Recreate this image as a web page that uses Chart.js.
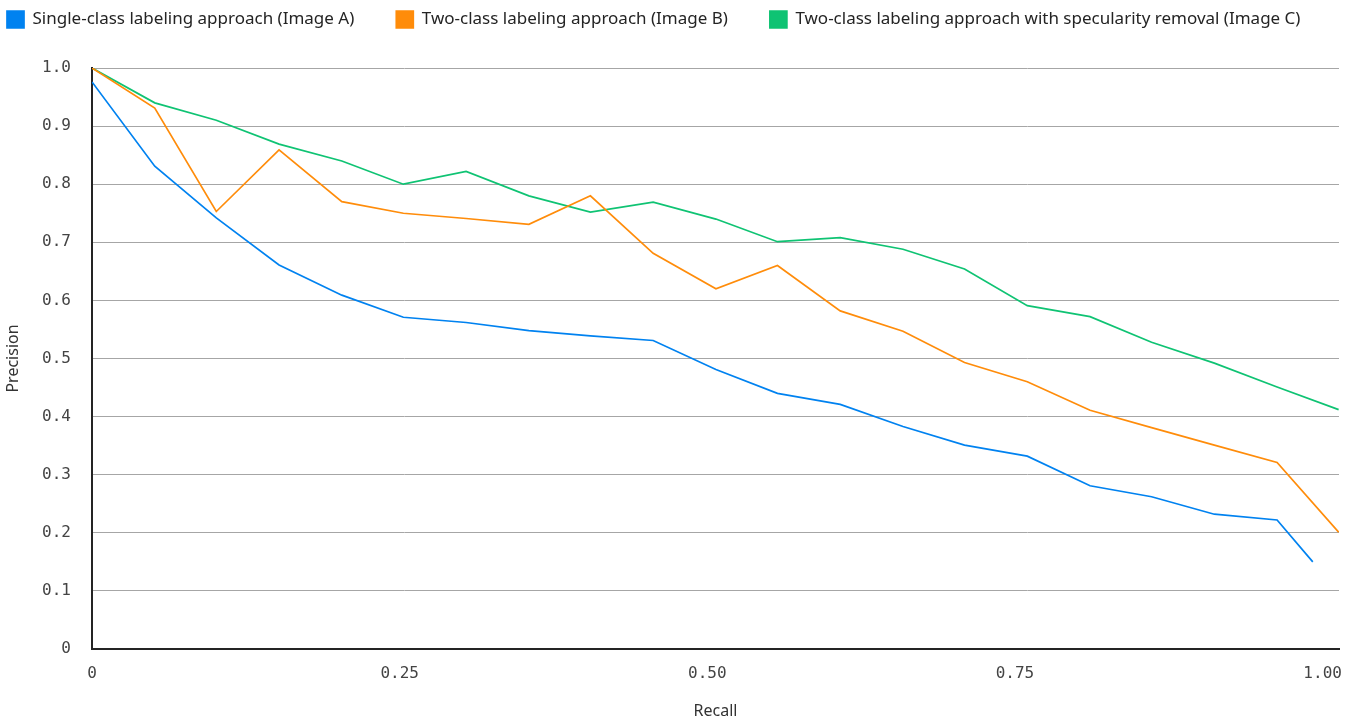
<!DOCTYPE html>
<html>
<head>
<meta charset="utf-8">
<title>Precision-Recall</title>
<script src="https://cdn.jsdelivr.net/npm/chart.js@4.4.1/dist/chart.umd.min.js"></script>
<style>
  html, body { margin: 0; padding: 0; background: #fff; }
  #wrap { width: 1351px; height: 718px; position: relative; }
</style>
</head>
<body>
<div id="wrap"><canvas id="prChart"></canvas></div>
<script>
// recall positions (x)
const recall = [0, 0.051, 0.101, 0.152, 0.203, 0.253, 0.304, 0.355, 0.405, 0.456, 0.507,
                0.557, 0.608, 0.659, 0.709, 0.760, 0.811, 0.861, 0.912, 0.963, 1.013];
const recallA = [0, 0.051, 0.101, 0.152, 0.203, 0.253, 0.304, 0.355, 0.405, 0.456, 0.507,
                 0.557, 0.608, 0.659, 0.709, 0.760, 0.811, 0.861, 0.912, 0.963, 0.992];

const precisionA = [0.976, 0.831, 0.742, 0.661, 0.609, 0.571, 0.562, 0.548, 0.539, 0.531, 0.481,
                    0.440, 0.421, 0.383, 0.351, 0.332, 0.281, 0.262, 0.232, 0.222, 0.150];
const precisionB = [1.0, 0.931, 0.753, 0.859, 0.770, 0.750, 0.741, 0.731, 0.780, 0.681, 0.620,
                    0.660, 0.582, 0.547, 0.493, 0.460, 0.411, 0.381, 0.351, 0.321, 0.201];
const precisionC = [1.0, 0.940, 0.910, 0.869, 0.840, 0.800, 0.822, 0.780, 0.752, 0.769, 0.740,
                    0.701, 0.708, 0.688, 0.654, 0.591, 0.572, 0.528, 0.492, 0.451, 0.412];

const seriesNames = [
    'Single-class labeling approach (Image A)',
    'Two-class labeling approach (Image B)',
    'Two-class labeling approach with specularity removal (Image C)'
];
const xTicks = [0, 0.25, 0.5, 0.75, 1.0];

const toPoints = (xs, ys) => xs.map((x, i) => ({ x: x, y: ys[i] }));

// legend spacing: same padding is used for the gap and the start offset, so shift the box afterwards
const legendGap = 42;
const legendPlacement = {
    id: 'legendPlacement',
    beforeInit(chart) {
        const fit = chart.legend.fit;
        chart.legend.fit = function () {
            fit.call(this);
            this.height = 68;
        };
    },
    afterLayout(chart) {
        chart.legend.left = 7 - legendGap;
        chart.legend.top = 11 - legendGap;
        chart.legend.right = 1600;
    }
};

const tickFont = { family: '"DejaVu Sans Mono", monospace', size: 16 };
const textFont = { family: '"Noto Sans", sans-serif', size: 16 };

const ctx = document.getElementById('prChart');
new Chart(ctx, {
    type: 'line',
    data: {
        datasets: [
            {
                label: seriesNames[0],
                data: toPoints(recallA, precisionA),
                borderColor: '#0082F0',
                backgroundColor: '#0082F0'
            },
            {
                label: seriesNames[1],
                data: toPoints(recall, precisionB),
                borderColor: '#FF8C0A',
                backgroundColor: '#FF8C0A'
            },
            {
                label: seriesNames[2],
                data: toPoints(recall, precisionC),
                borderColor: '#0FC373',
                backgroundColor: '#0FC373'
            }
        ]
    },
    options: {
        responsive: true,
        maintainAspectRatio: false,
        animation: false,
        layout: { padding: { left: 0, right: 12, top: 0, bottom: 0 } },
        elements: {
            line: { borderWidth: 1.7, tension: 0, fill: false },
            point: { radius: 0, hoverRadius: 0 }
        },
        plugins: {
            legend: {
                position: 'top',
                align: 'start',
                labels: {
                    boxWidth: 17,
                    boxHeight: 17,
                    padding: legendGap,
                    color: '#242424',
                    font: { family: textFont.family, size: 17 }
                }
            },
            tooltip: { enabled: false }
        },
        scales: {
            x: {
                type: 'linear',
                min: 0,
                max: 1.0133,
                afterBuildTicks: scale => { scale.ticks = xTicks.map(v => ({ value: v })); },
                afterFit: scale => {
                    scale.height = 69;
                    scale.paddingLeft = 0;
                    scale.paddingRight = 0;
                },
                grid: { display: false, drawTicks: false },
                border: { display: true, color: '#242424', width: 2 },
                ticks: {
                    padding: 15,
                    color: '#444',
                    font: tickFont,
                    maxRotation: 0,
                    callback: v => v === 0 ? '0' : v.toFixed(2)
                },
                title: {
                    display: true,
                    text: 'Recall',
                    color: '#333',
                    font: { family: textFont.family, size: 16, lineHeight: 1 },
                    padding: { top: 0, bottom: -1 }
                }
            },
            y: {
                min: 0,
                max: 1,
                afterFit: scale => { scale.width = 92; },
                grid: { color: '#a6a6a6', lineWidth: 1, drawTicks: false },
                border: { display: true, color: '#242424', width: 2 },
                ticks: {
                    stepSize: 0.1,
                    padding: 21,
                    color: '#444',
                    font: tickFont,
                    callback: v => v === 0 ? '0' : v.toFixed(1)
                },
                title: {
                    display: true,
                    text: 'Precision',
                    color: '#333',
                    font: textFont
                }
            }
        }
    },
    plugins: [legendPlacement]
});
</script>
</body>
</html>
